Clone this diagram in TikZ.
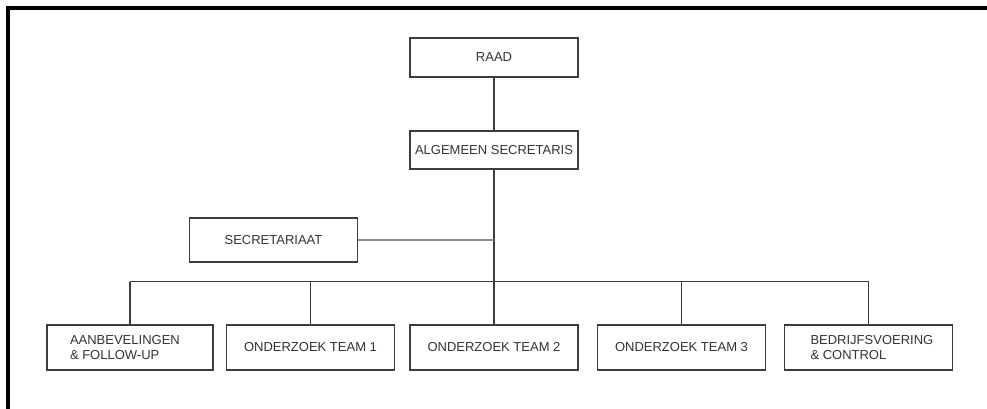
\documentclass[tikz,border=0pt]{standalone}
\usepackage{fontspec}
\setmainfont{Liberation Sans}
\definecolor{linegray}{RGB}{60,60,60}
\definecolor{secline}{RGB}{140,140,140}
\tikzset{
  orgbox/.style={draw=linegray, line width=1.3pt, fill=white, minimum width=168pt,
    inner sep=0pt, font=\fontsize{13}{15}\selectfont, text=black!80},
  conn/.style={draw=linegray, line width=1.3pt},
  secconn/.style={draw=secline, line width=2.6pt},
  frameline/.style={draw=black, line width=4pt}
}
\begin{document}
\begin{tikzpicture}[x=1pt,y=-1pt]
\useasboundingbox (0,0) rectangle (987,409);
\fill[white] (0,0) rectangle (987,409);
% frame
\draw[frameline] (8,409) -- (8,8) -- (987,8);
% nodes
\node[orgbox, minimum height=39pt] (raad) at (494,57.5) {RAAD};
\node[orgbox, minimum height=38pt] (alg) at (494,150) {ALGEMEEN SECRETARIS};
\node[orgbox, minimum height=44pt] (sec) at (273.5,240) {SECRETARIAAT};
\node[orgbox, minimum width=166pt, minimum height=45pt] (b1) at (130,347.5)
  {\begin{minipage}{166pt}\raggedright\leftskip=23pt AANBEVELINGEN\\ \& FOLLOW-UP\end{minipage}};
\node[orgbox, minimum height=45pt] (b2) at (310.5,347.5) {ONDERZOEK TEAM 1};
\node[orgbox, minimum height=45pt] (b3) at (494,347.5) {ONDERZOEK TEAM 2};
\node[orgbox, minimum height=45pt] (b4) at (681.5,347.5) {ONDERZOEK TEAM 3};
\node[orgbox, minimum height=45pt] (b5) at (868.5,347.5)
  {\begin{minipage}{168pt}\raggedright\leftskip=26pt BEDRIJFSVOERING\\ \& CONTROL\end{minipage}};
% coordinates
\coordinate (secj) at (494,240);
\coordinate (bus) at (494,281.5);
\coordinate (busL) at (130,281.5);
\coordinate (busR) at (868.5,281.5);
% connectors
\draw[conn] (raad.south) -- (alg.north);
\draw[conn] (alg.south) -- (b3.north);
\draw[secconn] (sec.east) -- (secj);
\draw[conn] (busL) -- (busR);
\draw[conn] (busL) -- (b1.north);
\draw[conn] (b2.north |- bus) -- (b2.north);
\draw[conn] (b4.north |- bus) -- (b4.north);
\draw[conn] (busR) -- (b5.north);
\end{tikzpicture}
\end{document}
